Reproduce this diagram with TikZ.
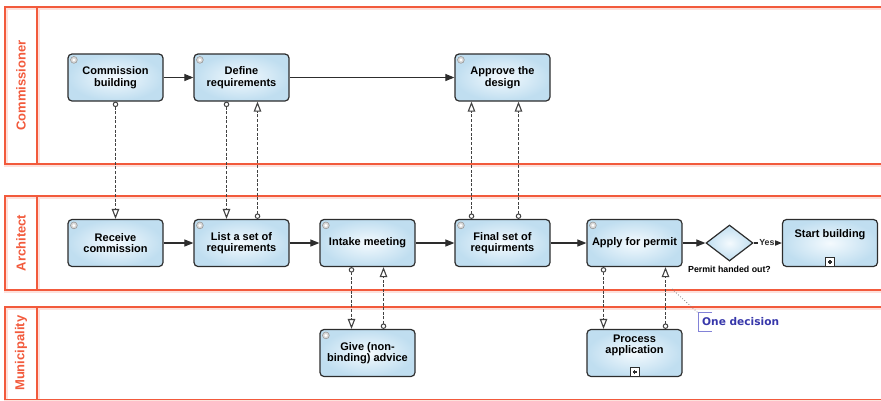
\documentclass[tikz,border=0pt]{standalone}
\usepackage{fontspec}
\setmainfont{Liberation Sans}
\newfontfamily\notefont{DejaVu Sans}
\usetikzlibrary{arrows.meta, calc, shapes.geometric, positioning}

\definecolor{lanered}{RGB}{242,90,60}
\definecolor{taskline}{RGB}{45,45,45}
\definecolor{taskin}{RGB}{244,250,254}
\definecolor{taskout}{RGB}{192,222,240}
\definecolor{notecol}{RGB}{55,55,170}
\definecolor{notebar}{RGB}{130,130,215}

\begin{document}
\begin{tikzpicture}[x=1pt, y=-1pt,
    lane/.style={lanered, line width=1.6pt},
    lanehalo/.style={lanered!18, line width=3.4pt},
    lanename/.style={rotate=90, text=lanered, font=\fontsize{13}{13}\selectfont\bfseries},
    task/.style={draw=taskline, line width=1.2pt, rounded corners=4pt,
      inner color=taskin, outer color=taskout, minimum width=95pt, minimum height=47pt,
      inner sep=2pt, align=center, font=\fontsize{11}{11.5}\selectfont\bfseries},
    subtask/.style={task, text depth=18pt},
    gate/.style={diamond, draw=taskline, line width=1.2pt, inner color=taskin,
      outer color=taskout, minimum width=47pt, minimum height=36pt, inner sep=0pt},
    small/.style={font=\fontsize{8.8}{9}\selectfont\bfseries, inner sep=1pt},
    seq/.style={taskline, line width=1.1pt, -{Triangle[length=9pt,width=7pt]}},
    msg/.style={taskline!90, line width=1.4pt, dash pattern=on 3pt off 1.6pt,
      {Circle[length=5.5pt,fill=white,line width=1pt]}-{Triangle[length=10pt,width=7.5pt,fill=white,line width=1.1pt]}},
    icon/.style={draw=gray!80, fill=gray!30, line width=0.6pt},
    marker/.style={draw=taskline, fill=white, line width=0.9pt, minimum size=9pt, inner sep=0pt}
  ]
  \useasboundingbox (0,0) rectangle (881,400);

% Lanes
  \foreach \top/\bot/\name/\nm in {7/164/Commissioner/comm, 196/290/Architect/arch, 307/399.5/Municipality/muni} {
    \draw[lanehalo] (890,\top+1) -- (6,\top+1) -- (6,\bot+1) -- (890,\bot+1);
    \draw[lanehalo] (38,\top+1) -- (38,\bot);
    \draw[lane] (890,\top) -- (5,\top) -- (5,\bot) -- (890,\bot);
    \draw[lane] (37,\top) -- (37,\bot);
    \node[lanename] (\nm) at ($(21,\top)!0.5!(21,\bot)$) {\name};
  }

% Tasks
  \node[task] (cb) at (115.5,77.5) {Commission\\building};
  \node[task] (dr) at (241.5,77.5) {Define\\requirements};
  \node[task] (ad) at (502.5,77.5) {Approve the\\design};
  \node[task] (rc) at (115.5,243) {Receive\\commission};
  \node[task] (ls) at (241.5,243) {List a set of\\requirements};
  \node[task] (im) at (367.5,243) {Intake meeting};
  \node[task] (fs) at (502.5,243) {Final set of\\requirments};
  \node[task] (ap) at (634.5,243) {Apply for permit};
  \node[gate] (gw) at (729.5,243) {};
  \node[small, below=3pt of gw] (gwname) {Permit handed out?};
  \node[subtask] (sb) at (830,243) {Start building};
  \node[task] (ga) at (367.5,353) {Give (non-\\binding) advice};
  \node[subtask] (pa) at (634.5,353) {Process\\application};

% Task icons and subprocess markers
  \foreach \t in {cb,dr,ad,rc,ls,im,fs,ap,ga} {
    \draw[icon] ([shift={(6.5,6.5)}]\t.north west) circle (3.4);
    \fill[white] ([shift={(6.5,6.5)}]\t.north west) circle (1.5);
  }
  \foreach \t in {sb,pa} {
    \node[marker] (\t-mk) at ([yshift=5pt]\t.south) {};
    \draw[taskline, line width=1.3pt] ([xshift=-2pt]\t-mk.center) -- ([xshift=2pt]\t-mk.center)
      ([yshift=-2pt]\t-mk.center) -- ([yshift=2pt]\t-mk.center);
  }

% Sequence flows
  \draw[seq] (cb) -- (dr);
  \draw[seq] (dr) -- (ad);
  \draw[seq] (rc) -- (ls);
  \draw[seq] (ls) -- (im);
  \draw[seq] (im) -- (fs);
  \draw[seq] (fs) -- (ap);
  \draw[seq] (ap) -- (gw);
  \draw[seq] (gw) -- node[small, fill=white, pos=0.47] (yes) {Yes} (sb);

% Message flows
  \draw[msg] (cb.south) -- (rc.north);
  \draw[msg] ([xshift=-15pt]dr.south) -- ([xshift=-15pt]ls.north);
  \draw[msg] ([xshift=16pt]ls.north) -- ([xshift=16pt]dr.south);
  \draw[msg] ([xshift=-31pt]fs.north) -- ([xshift=-31pt]ad.south);
  \draw[msg] ([xshift=16pt]fs.north) -- ([xshift=16pt]ad.south);
  \draw[msg] ([xshift=-16pt]im.south) -- ([xshift=-16pt]ga.north);
  \draw[msg] ([xshift=16pt]ga.north) -- ([xshift=16pt]im.south);
  \draw[msg] ([xshift=-31pt]ap.south) -- ([xshift=-31pt]pa.north);
  \draw[msg] ([xshift=31pt]pa.north) -- ([xshift=31pt]ap.south);

% Annotation
  \node[anchor=west, minimum height=18pt, inner sep=4pt, text=notecol,
    font=\notefont\fontsize{10.6}{11}\selectfont\bfseries] (note) at (698,322) {One decision};
  \draw[notebar, line width=1pt] ([xshift=14pt]note.north west) -| (note.south west) -- ([xshift=14pt]note.south west);
  \coordinate (msgpt) at (672,289);
  \draw[gray, line width=0.8pt, dotted] (msgpt) -- (note.north west);

\end{tikzpicture}
\end{document}
